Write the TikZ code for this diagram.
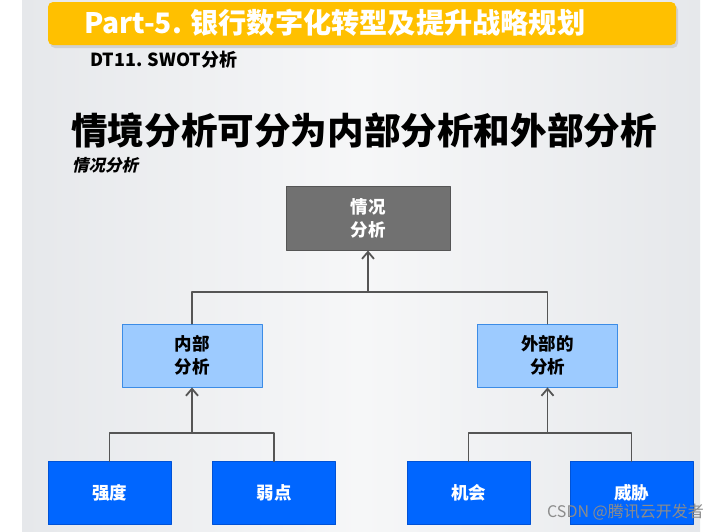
\documentclass[tikz,border=0pt]{standalone}
\usepackage{fontspec}
\setmainfont{Noto Sans CJK SC}
\newfontfamily\cjkslant[FakeSlant=0.22]{Noto Sans CJK SC}
\usetikzlibrary{arrows.meta}
\definecolor{banner}{HTML}{FFC000}
\definecolor{slide}{HTML}{E6E8EB}
\definecolor{linkgray}{HTML}{555555}
\definecolor{topgray}{HTML}{717171}
\definecolor{midblue}{HTML}{9DCBFF}
\definecolor{midedge}{HTML}{3C8CE6}
\definecolor{lowblue}{HTML}{0066FF}
\definecolor{lowedge}{HTML}{0052D6}
\tikzset{
  every picture/.style={line join=round, line cap=round, >={Straight Barb[length=7pt,width=12pt]}},
  topbox/.style={draw=linkgray, fill=topgray, line width=1pt, minimum width=164pt, minimum height=64pt,
    text=white, font=\fontsize{17.5}{23}\selectfont\bfseries, align=center},
  midbox/.style={draw=midedge, fill=midblue, line width=0.8pt, minimum width=140pt, minimum height=63pt,
    text=black, font=\fontsize{17.5}{23}\selectfont\bfseries, align=center},
  lowbox/.style={draw=lowedge, fill=lowblue, line width=0.8pt, minimum width=123pt, minimum height=63pt,
    text=white, font=\fontsize{17.5}{23}\selectfont\bfseries, align=center},
  conn/.style={draw=linkgray, line width=1.8pt},
}

\begin{document}
\begin{tikzpicture}[x=1pt,y=-1pt]
\useasboundingbox (0,0) rectangle (720,531);
% slide and banner
\fill[white] (0,0) rectangle (720,531);
\shade[left color=slide, right color=slide, middle color=slide!35!white] (22,0) rectangle (700,531);
\fill[black!18, rounded corners=5pt] (50,5) rectangle (678,48);
\fill[banner, rounded corners=5pt] (48,2) rectangle (676,45);
\node[anchor=west, text=white, font=\fontsize{28.2}{30}\selectfont\bfseries, inner sep=0pt] (head) at (84,23)
  {Part-5. 银行数字化转型及提升战略规划};
\node[anchor=west, font=\fontsize{18}{20}\selectfont\bfseries, inner sep=0pt] (sub) at (90,60) {DT11. SWOT分析};
\node[anchor=west, font=\fontsize{36.6}{40}\selectfont\bfseries, inner sep=0pt] (title) at (71,130)
  {情境分析可分为内部分析和外部分析};
\node[anchor=west, font=\fontsize{16.5}{18}\cjkslant\bfseries, inner sep=0pt] (note) at (72,165) {情况分析};
% boxes
\node[topbox] (sit) at (368,218) {情况\\分析};
\node[midbox] (inner) at (192,355.5) {内部\\分析};
\node[midbox] (outer) at (547.5,355.5) {外部的\\分析};
\node[lowbox] (str) at (109.5,493) {强度};
\node[lowbox] (weak) at (274,493) {弱点};
\node[lowbox] (opp) at (468.5,493) {机会};
\node[lowbox] (thr) at (631.5,493) {威胁};
% connectors
\coordinate (topbar) at (368,292);
\coordinate (leftbar) at (192,433);
\coordinate (rightbar) at (547.5,433);
\draw[conn] (inner.north) |- (topbar) -| (outer.north);
\draw[conn,->] (topbar) -- (sit.south);
\draw[conn] (str.north) |- (leftbar) -| (weak.north);
\draw[conn,->] (leftbar) -- (inner.south);
\draw[conn] (opp.north) |- (rightbar) -| (thr.north);
\draw[conn,->] (rightbar) -- (outer.south);
% watermark
\node[anchor=east, text=black!45, font=\fontsize{16}{18}\selectfont, inner sep=0pt] (mark) at (704,512) {CSDN @腾讯云开发者};
\end{tikzpicture}
\end{document}
